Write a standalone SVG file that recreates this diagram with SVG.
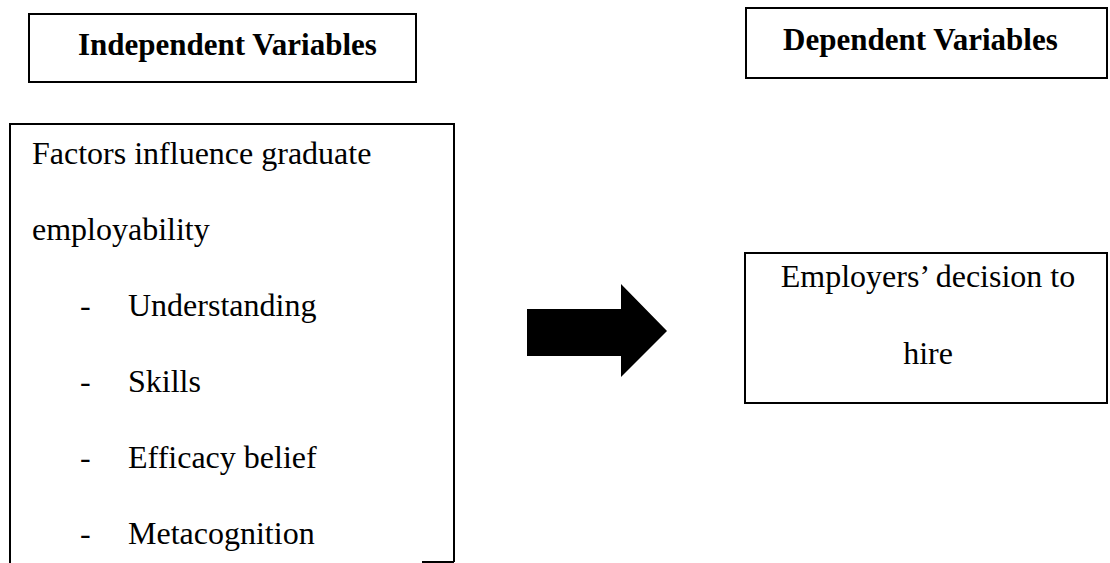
<svg xmlns="http://www.w3.org/2000/svg" width="1110" height="563" viewBox="0 0 1110 563">
<style>
.box{fill:none;stroke:#000;stroke-width:2}
.hd{font-family:"Liberation Serif","Times New Roman",serif;font-weight:bold;font-size:31px;fill:#000}
.tx{font-family:"Liberation Serif","Times New Roman",serif;font-size:32px;fill:#000}
</style>
<rect width="1110" height="563" fill="#fff"/>
<g id="independent-header">
<rect class="box" x="29" y="14" width="387" height="68"/>
<text class="hd" x="78" y="55">Independent Variables</text>
</g>
<g id="dependent-header">
<rect class="box" x="746" y="8" width="361" height="70"/>
<text class="hd" x="783" y="50">Dependent Variables</text>
</g>
<g id="factors">
<path class="box" d="M10,563 V124 H454 V562 M422,562 H454"/>
<text class="tx" x="32" y="164">Factors influence graduate</text>
<text class="tx" x="32" y="240">employability</text>
<text class="tx" x="80" y="316">-</text><text class="tx" x="128" y="316">Understanding</text>
<text class="tx" x="80" y="392">-</text><text class="tx" x="128" y="392">Skills</text>
<text class="tx" x="80" y="468">-</text><text class="tx" x="128" y="468">Efficacy belief</text>
<text class="tx" x="80" y="544">-</text><text class="tx" x="128" y="544">Metacognition</text>
</g>
<g id="decision">
<rect class="box" x="745" y="253" width="362" height="150"/>
<text class="tx" x="928" y="287" text-anchor="middle">Employers’ decision to</text>
<text class="tx" x="928" y="364" text-anchor="middle">hire</text>
</g>
<g id="connectors">
<polygon points="527,309 621,309 621,284 667,331 621,377 621,356 527,356" fill="#000"/>
</g>
</svg>
